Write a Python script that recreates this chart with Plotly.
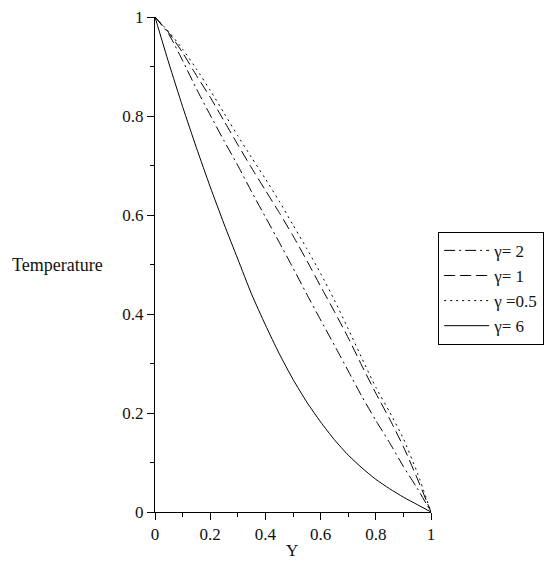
import plotly.graph_objects as go

Y = [0.0, 0.05, 0.1, 0.15, 0.2, 0.25, 0.3, 0.35, 0.4, 0.45, 0.5,
     0.55, 0.6, 0.65, 0.7, 0.75, 0.8, 0.85, 0.9, 0.95, 1.0]

T_gamma2 = [1.0, 0.965, 0.912, 0.855, 0.802, 0.75, 0.70, 0.647, 0.596, 0.545, 0.493,
            0.44, 0.388, 0.337, 0.285, 0.233, 0.185, 0.14, 0.092, 0.048, 0.0]
T_gamma1 = [1.0, 0.968, 0.928, 0.882, 0.838, 0.79, 0.742, 0.695, 0.65, 0.605, 0.558,
            0.508, 0.456, 0.405, 0.352, 0.295, 0.240, 0.188, 0.132, 0.068, 0.0]
T_gamma05 = [1.0, 0.97, 0.935, 0.895, 0.852, 0.806, 0.76, 0.716, 0.673, 0.628, 0.58,
             0.532, 0.482, 0.428, 0.37, 0.31, 0.252, 0.202, 0.148, 0.08, 0.0]
T_gamma6 = [1.0, 0.907, 0.819, 0.736, 0.657, 0.582, 0.511, 0.44, 0.378, 0.32, 0.268,
            0.222, 0.182, 0.146, 0.115, 0.089, 0.066, 0.047, 0.03, 0.015, 0.0]

names = ["γ= 2", "γ= 1", "γ =0.5", "γ= 6"]
dashes = ["11px,4px,2px,4px", "11px,5px", "2px,4px", "solid"]
series = [T_gamma2, T_gamma1, T_gamma05, T_gamma6]

FONT = "Liberation Serif"
TXT = "#111111"

fig = go.Figure()
for name, dash, ys in zip(names, dashes, series):
    fig.add_trace(go.Scatter(x=Y, y=ys, mode="lines", name=name,
                             line=dict(color="black", width=1, dash=dash, shape="spline",
                                       smoothing=0.6)))

axis_common = dict(
    range=[0, 1], showgrid=False, zeroline=False, showline=True,
    linecolor="black", linewidth=1, ticks="outside", ticklen=7,
    tickcolor="black", tickwidth=1, dtick=0.2, tick0=0,
    tickfont=dict(family=FONT, size=17, color=TXT),
    minor=dict(dtick=0.1, ticks="outside", ticklen=4, tickcolor="black", tickwidth=1),
)

fig.update_layout(
    width=559, height=561,
    margin=dict(l=155, r=128, t=17, b=49, autoexpand=False),
    plot_bgcolor="white", paper_bgcolor="white",
    xaxis=axis_common, yaxis=axis_common,
    showlegend=True,
    legend=dict(x=1.026, y=0.566, xanchor="left", yanchor="top",
                bordercolor="black", borderwidth=1,
                font=dict(family=FONT, size=17, color=TXT),
                tracegroupgap=0, itemwidth=45),
    annotations=[
        dict(text="Temperature", xref="paper", yref="paper", x=-0.355, y=0.5,
             xanchor="center", yanchor="middle", showarrow=False,
             font=dict(family=FONT, size=18, color=TXT)),
        dict(text="Y", xref="paper", yref="paper", x=0.497, y=-0.078,
             xanchor="center", yanchor="middle", showarrow=False,
             font=dict(family=FONT, size=17, color=TXT)),
    ],
)

fig.write_html("out.html",
               config={"displayModeBar": False},
               post_script="document.body.style.margin='0';document.body.style.overflow='hidden';")
